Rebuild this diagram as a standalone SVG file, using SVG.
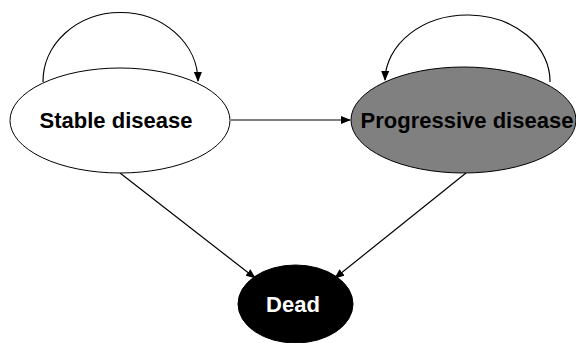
<svg xmlns="http://www.w3.org/2000/svg" width="576" height="343" viewBox="0 0 576 343">
<defs>
<marker id="ah" markerWidth="10" markerHeight="8" refX="9" refY="4" orient="auto" markerUnits="userSpaceOnUse">
<path d="M0,0 L10,4 L0,8 Z" fill="#000"/>
</marker>
<style>
.n{stroke:#000;stroke-width:1}
.t{font-family:"Liberation Sans",Arial,sans-serif;font-weight:bold;font-size:22px;text-anchor:middle}
.c{fill:none;stroke:#000;stroke-width:1.2;marker-end:url(#ah)}
</style>
</defs>
<rect width="576" height="343" fill="#fff"/>
<g id="connectors">
<path class="c" d="M43,82 A77.5,69 0 0 1 198,81"/>
<path class="c" d="M550,82 A82.5,66 0 0 0 385,80"/>
<path class="c" d="M231,120 L350,120"/>
<path class="c" d="M120,173 L255,278"/>
<path class="c" d="M466,173 L335,278"/>
</g>
<g id="stable">
<ellipse class="n" cx="120" cy="120.5" rx="110" ry="52.5" fill="#fff"/>
<text class="t" x="116" y="128">Stable disease</text>
</g>
<g id="progressive">
<ellipse class="n" cx="463.5" cy="120" rx="112.5" ry="53" fill="#808080"/>
<text class="t" x="467" y="128">Progressive disease</text>
</g>
<g id="dead">
<ellipse class="n" cx="295.5" cy="304" rx="57.5" ry="39" fill="#000"/>
<text class="t" x="293" y="312" fill="#fff">Dead</text>
</g>
</svg>
